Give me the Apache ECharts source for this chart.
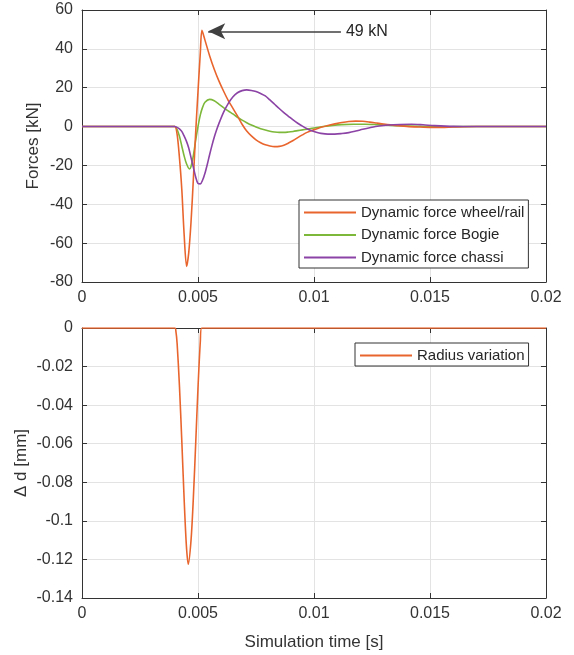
<!DOCTYPE html>
<html>
<head>
<meta charset="utf-8">
<script src="https://cdn.jsdelivr.net/npm/echarts@6/dist/echarts.min.js"></script>
<style>
    html, body { margin: 0; padding: 0; background: #fff; }
    #chart { width: 574px; height: 655px; }
</style>
</head>
<body>
<div id="chart"></div>
<script>
// data: [time s, value]
var wheelRail = [
    [0, 0], [0.0039, 0], [0.0040, 0], [0.0041, -4], [0.0042, -16], [0.0043, -32], [0.0044, -55],
    [0.00451, -72], [0.0046, -65], [0.0047, -49], [0.0048, -27], [0.0049, -3], [0.0050, 18],
    [0.0051, 38], [0.00517, 49.5], [0.0053, 44.5], [0.0055, 36.5], [0.0057, 29.5], [0.0059, 23.5],
    [0.0061, 18.3], [0.0063, 13.5], [0.0065, 9.5], [0.0067, 5.5], [0.0069, 1.2], [0.0071, -2.3],
    [0.0073, -4.8], [0.0075, -6.8], [0.0077, -8.3], [0.0079, -9.4], [0.0081, -10.0], [0.0083, -10.3],
    [0.0085, -10.2], [0.0087, -9.6], [0.0089, -8.5], [0.0091, -7.2], [0.0093, -5.7], [0.0095, -4.3],
    [0.0097, -3.0], [0.0099, -2.0], [0.0101, -1.2], [0.0103, -0.4], [0.0106, 0.6], [0.0109, 1.4],
    [0.0112, 2.1], [0.0115, 2.6], [0.0118, 2.8], [0.0121, 2.7], [0.0124, 2.3], [0.0127, 1.8],
    [0.0130, 1.3], [0.0135, 0.6], [0.0140, 0.1], [0.0145, -0.2], [0.0150, -0.4], [0.0155, -0.4],
    [0.0160, -0.2], [0.0170, 0], [0.0200, 0]
];
var bogie = [
    [0, 0], [0.0039, 0], [0.0040, 0], [0.0041, -1.5], [0.0042, -5], [0.0043, -10], [0.0044, -15],
    [0.0045, -19], [0.00463, -21.8], [0.0047, -20.5], [0.0048, -15], [0.0049, -7], [0.0050, 0],
    [0.0051, 6], [0.0052, 10], [0.0053, 12.5], [0.0055, 14], [0.0057, 13.3], [0.0059, 11.6],
    [0.0061, 9.8], [0.0063, 8.1], [0.0065, 6.5], [0.0067, 4.8], [0.0069, 3.3], [0.0071, 2.0],
    [0.0073, 0.8], [0.0075, -0.2], [0.0077, -1.1], [0.0079, -1.8], [0.0081, -2.4], [0.0083, -2.8],
    [0.0085, -3.0], [0.0087, -3.0], [0.0089, -2.8], [0.0091, -2.5], [0.0093, -2.1], [0.0095, -1.7],
    [0.0097, -1.3], [0.0100, -0.7], [0.0104, 0], [0.0108, 0.6], [0.0112, 1.0], [0.0117, 1.2],
    [0.0122, 1.2], [0.0127, 1.0], [0.0132, 0.7], [0.0137, 0.4], [0.0145, 0.1], [0.0155, -0.1],
    [0.0170, 0], [0.0200, 0]
];
var chassi = [
    [0, 0], [0.0039, 0], [0.0040, 0], [0.0041, -0.4], [0.0042, -1.2], [0.0043, -2.5], [0.0044, -4.8],
    [0.0045, -7.5], [0.0046, -11], [0.0047, -16], [0.0048, -21], [0.0049, -26], [0.0050, -29.3],
    [0.0051, -29.5], [0.0052, -27.5], [0.0053, -24], [0.0054, -19.5], [0.0055, -14.5], [0.0056, -9.8],
    [0.0057, -5.5], [0.0058, -1.8], [0.0059, 1.5], [0.0061, 7.3], [0.0063, 11.8], [0.0065, 15.2],
    [0.0067, 17.4], [0.0069, 18.5], [0.0071, 18.9], [0.0073, 18.6], [0.0075, 18.0], [0.0077, 17.0],
    [0.0079, 15.8], [0.0081, 13.7], [0.0083, 11.5], [0.0085, 9.3], [0.0087, 7.2], [0.0089, 5.3],
    [0.0091, 3.4], [0.0093, 1.7], [0.0095, 0.2], [0.0097, -1.1], [0.0099, -2.1], [0.0101, -2.9],
    [0.0103, -3.5], [0.0106, -3.9], [0.0109, -3.9], [0.0112, -3.6], [0.0115, -3.1], [0.0118, -2.3],
    [0.0121, -1.4], [0.0124, -0.6], [0.0128, 0.3], [0.0132, 0.8], [0.0137, 1.1], [0.0142, 1.2],
    [0.0147, 0.9], [0.0152, 0.5], [0.0160, 0.1], [0.0170, 0], [0.0200, 0]
];
var radius = [
    [0, 0], [0.0040, 0], [0.00405, -0.002], [0.0041, -0.008], [0.0042, -0.030], [0.0043, -0.058],
    [0.0044, -0.088], [0.0045, -0.113], [0.00458, -0.1225], [0.0047, -0.110], [0.0048, -0.088],
    [0.0049, -0.060], [0.0050, -0.031], [0.0051, -0.007], [0.00516, 0], [0.0200, 0]
];
// peak annotation: arrow from the peak to the label
var peakArrow = [[0.00544, 49], [0.01116, 49]];
var peakText = '49 kN';

var forceNames = ['Dynamic force wheel/rail', 'Dynamic force Bogie', 'Dynamic force chassi'];
var radiusName = 'Radius variation';
var colors = ['#E9652E', '#7DB83A', '#8B43A5'];

var font = 'Liberation Sans, Arial, Helvetica, sans-serif';
var axisColor = '#333333';
var gridColor = '#E3E3E3';

function xAxisOf(grid, pos, withLabels, name) {
    return {
        type: 'value', gridIndex: grid, position: pos,
        min: 0, max: 0.02, interval: 0.005,
        name: name || '', nameLocation: 'middle', nameGap: 36,
        nameTextStyle: { color: axisColor, fontSize: 17, fontFamily: font },
        axisLine: { show: true, onZero: false, lineStyle: { color: axisColor, width: 1 } },
        axisTick: { show: true, inside: true, length: 5, lineStyle: { color: axisColor } },
        axisLabel: { show: withLabels, margin: 8, color: axisColor, fontSize: 16, fontFamily: font },
        splitLine: { show: withLabels, lineStyle: { color: gridColor, width: 1 } }
    };
}
function yAxisOf(grid, pos, withLabels, min, max, step, name, gap) {
    return {
        type: 'value', gridIndex: grid, position: pos,
        min: min, max: max, interval: step,
        name: name || '', nameLocation: 'middle', nameGap: gap || 40,
        nameMoveOverlap: false,
        nameTextStyle: { color: axisColor, fontSize: 17, fontFamily: font },
        axisLine: { show: true, onZero: false, lineStyle: { color: axisColor, width: 1 } },
        axisTick: { show: true, inside: true, length: 5, lineStyle: { color: axisColor } },
        axisLabel: { show: withLabels, margin: 9, color: axisColor, fontSize: 16, fontFamily: font },
        splitLine: { show: withLabels, lineStyle: { color: gridColor, width: 1 } }
    };
}
function legendOf(names, left, top) {
    return {
        data: names, orient: 'vertical', left: left, top: top,
        icon: 'rect', itemWidth: 52, itemHeight: 2, itemGap: 7.5,
        backgroundColor: '#fff', borderColor: '#333', borderWidth: 1, borderRadius: 0,
        padding: [5, 4, 3, 5],
        textStyle: { color: '#262626', fontSize: 15, fontFamily: font }
    };
}

var chart = echarts.init(document.getElementById('chart'));
var option = {
    animation: false,
    backgroundColor: '#fff',
    textStyle: { fontFamily: font },
    grid: [
        { left: 82, top: 10, width: 464, height: 272 },
        { left: 82, top: 328, width: 464, height: 270 }
    ],
    xAxis: [
        xAxisOf(0, 'bottom', true),
        xAxisOf(0, 'top', false),
        xAxisOf(1, 'bottom', true, 'Simulation time [s]'),
        xAxisOf(1, 'top', false)
    ],
    yAxis: [
        yAxisOf(0, 'left', true, -80, 60, 20, 'Forces [kN]', 40),
        yAxisOf(0, 'right', false, -80, 60, 20),
        yAxisOf(1, 'left', true, -0.14, 0, 0.02, 'Δ d [mm]', 52),
        yAxisOf(1, 'right', false, -0.14, 0, 0.02)
    ],
    legend: [
        legendOf(forceNames, 299, 200),
        legendOf([radiusName], 355, 343)
    ],
    series: [
        {
            name: forceNames[0], type: 'line', xAxisIndex: 0, yAxisIndex: 0,
            data: wheelRail, smooth: 0.3, symbol: 'none', z: 3,
            lineStyle: { color: colors[0], width: 1.6 }, itemStyle: { color: colors[0] },
            markLine: {
                silent: true, symbol: ['arrow', 'none'], symbolSize: [12, 17],
                lineStyle: { color: '#404040', width: 1.5, type: 'solid' },
                label: {
                    show: true, position: 'end', distance: 5, formatter: peakText,
                    color: '#262626', fontSize: 16, fontFamily: font
                },
                data: [[{ coord: peakArrow[0] }, { coord: peakArrow[1] }]]
            }
        },
        {
            name: forceNames[1], type: 'line', xAxisIndex: 0, yAxisIndex: 0,
            data: bogie, smooth: 0.3, symbol: 'none', z: 2,
            lineStyle: { color: colors[1], width: 1.6 }, itemStyle: { color: colors[1] }
        },
        {
            name: forceNames[2], type: 'line', xAxisIndex: 0, yAxisIndex: 0,
            data: chassi, smooth: 0.3, symbol: 'none', z: 4,
            lineStyle: { color: colors[2], width: 1.6 }, itemStyle: { color: colors[2] }
        },
        {
            name: radiusName, type: 'line', xAxisIndex: 2, yAxisIndex: 2,
            data: radius, smooth: 0.3, symbol: 'none', z: 3,
            lineStyle: { color: colors[0], width: 1.6 }, itemStyle: { color: colors[0] }
        }
    ]
};
chart.setOption(option);
</script>
</body>
</html>
